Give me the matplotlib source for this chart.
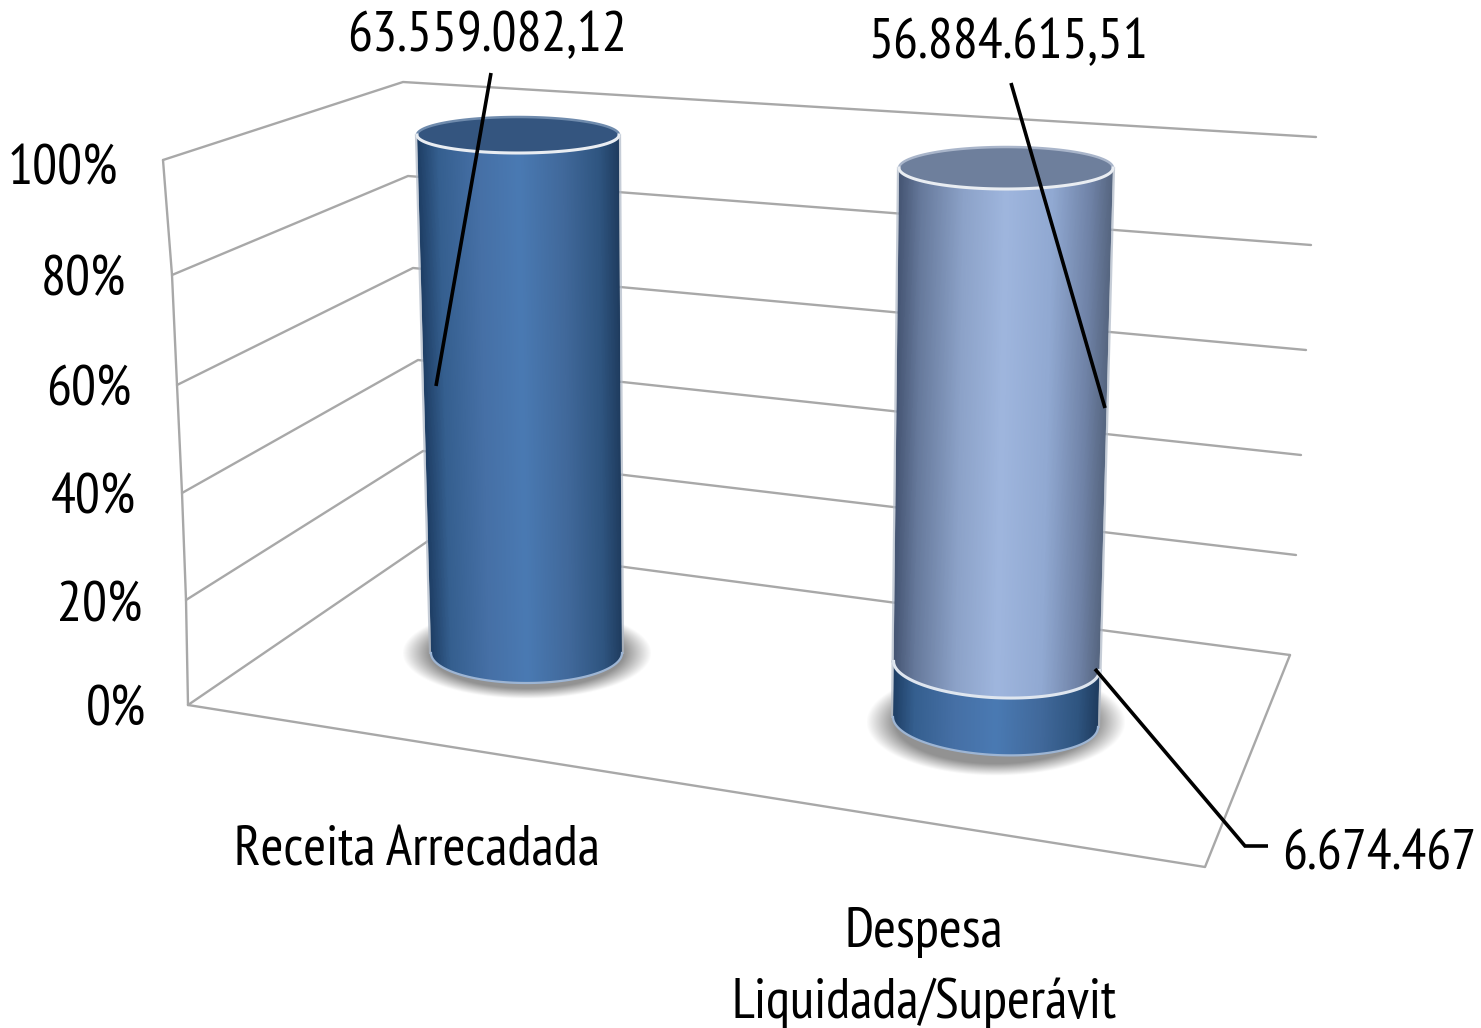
import matplotlib
matplotlib.use('Agg')
import matplotlib.pyplot as plt
from matplotlib.colors import LinearSegmentedColormap
from matplotlib.patches import Polygon
import numpy as np

plt.rcParams['font.family'] = ['PT Sans Narrow', 'Liberation Sans', 'DejaVu Sans']

# data
categories = ['Receita Arrecadada', 'Despesa\nLiquidada/Superávit']
receita = [63559082.12, 0]
despesa = [0, 56884615.51]
superavit = [0, 6674467]
tick_values = [0, 20, 40, 60, 80, 100]
tick_labels = ['0%', '20%', '40%', '60%', '80%', '100%']
value_labels = ['63.559.082,12', '56.884.615,51', '6.674.467']

# the fake 3d box, pixels of the picture, one entry per tick
front_x = [188, 186, 182, 177, 172, 163]
front_y = [705, 600, 493, 385, 275, 160]
back_x = [428, 423, 418, 413, 408, 403]
back_y = [541, 451, 360, 268, 176, 82]
right_x = [1290, 1296, 1301, 1306, 1311, 1316]
right_y = [655, 555, 455, 350, 245, 137]
floor_front = (1205, 867)

# cylinders: bottom and top ellipse (cx, cy, rx, ry, tilt)
cyl1 = ((526.5, 653, 95.5, 30, 0), (518, 135, 101, 18, 0))
cyl2 = ((995.5, 722, 102.5, 33, 5), (1006, 168, 107, 21, 0))

dark_blue = LinearSegmentedColormap.from_list('b', [(0, '#1f3f66'), (0.1, '#355f8f'), (0.3, '#4670a6'),
                                                    (0.5, '#4a7ab3'), (0.72, '#41699b'), (0.9, '#2f5580'), (1, '#1f3c5e')])
light_blue = LinearSegmentedColormap.from_list('l', [(0, '#465674'), (0.1, '#66799b'), (0.3, '#8ca2c8'),
                                                     (0.5, '#9fb6de'), (0.72, '#91a9d2'), (0.9, '#6f82a6'), (1, '#55657f')])

fig = plt.figure(figsize=(14.81, 10.28), dpi=100)
ax = fig.add_axes([0, 0, 1, 1])
ax.axis('off')


def grid(x, y, **kw):
    ax.plot(x, y, color='#a8a8a8', lw=1.7, solid_capstyle='round', zorder=1, **kw)


def ellipse_at(cyl, pct):
    # pct -> ellipse, the steps of the front edge give the perspective
    k = (front_y[0] - np.interp(pct, tick_values, front_y)) / (front_y[0] - front_y[-1])
    return [b + (t - b) * k for b, t in zip(cyl[0], cyl[1])]


def arc(e, t0, t1):
    t = np.linspace(t0, t1, 80)
    return e[0] + e[2] * np.cos(t), e[1] + e[3] * np.sin(t) + e[4] * np.cos(t)


def shadow(e, grow_x, grow_y):
    xs = np.arange(e[0] - grow_x - 20, e[0] + grow_x + 20)
    ys = np.arange(e[1] - grow_y - 20, e[1] + grow_y + 20)
    xx, yy = np.meshgrid(xs, ys)
    d = np.sqrt(((xx - e[0]) / grow_x) ** 2 + ((yy - e[1]) / grow_y) ** 2)
    img = np.zeros(d.shape + (4,))
    img[..., :3] = 0.5
    img[..., 3] = 0.85 * np.clip((1 - d) / 0.22, 0, 1)
    ax.imshow(img, extent=(xs[0], xs[-1], ys[-1], ys[0]), aspect='auto', zorder=2, interpolation='bilinear')


def side(cyl, p0, p1, cmap):
    e0 = ellipse_at(cyl, p0)
    e1 = ellipse_at(cyl, p1)
    low = ellipse_at(cyl, 0)
    top = ellipse_at(cyl, 100)
    x0 = min(low[0] - low[2], top[0] - top[2]) - 2
    x1 = max(low[0] + low[2], top[0] + top[2]) + 2
    y0, y1 = e1[1] - 30, e0[1] + e0[3] + 10
    xs = np.arange(x0, x1, 1.0)
    ys = np.arange(y0, y1, 1.0)
    xx, yy = np.meshgrid(xs, ys)
    k = (yy - top[1]) / (low[1] - top[1])
    left = top[0] - top[2] + k * ((low[0] - low[2]) - (top[0] - top[2]))
    right = top[0] + top[2] + k * ((low[0] + low[2]) - (top[0] + top[2]))
    img = cmap(np.clip((xx - left) / (right - left), 0, 1))
    im = ax.imshow(img, extent=(x0, x1, y1, y0), aspect='auto', zorder=3, interpolation='bilinear')
    ux, uy = arc(e1, np.pi, 0)
    lx, ly = arc(e0, 0, np.pi)
    im.set_clip_path(Polygon(np.column_stack([np.r_[ux, lx], np.r_[uy, ly]]), transform=ax.transData))
    # pale outline down both sides
    ax.plot([ux[0] - 1, lx[-1] - 1], [uy[0], ly[-1]], color='#aeb8c6', lw=1.6, alpha=0.7, zorder=4)
    ax.plot([ux[-1] + 1, lx[0] + 1], [uy[-1], ly[0]], color='#aeb8c6', lw=1.6, alpha=0.7, zorder=4)


def rim(e, color, lw=2.0):
    x, y = arc(e, np.pi, 0)
    ax.plot(x, y, color=color, lw=lw, zorder=5)


def top_face(e, color, back_color):
    x, y = arc(e, 0, 2 * np.pi)
    ax.fill(x, y, color=color, zorder=4, lw=0)
    bx, by = arc(e, np.pi, 2 * np.pi)
    ax.plot(bx, by, color=back_color, lw=1.8, zorder=5)
    rim(e, '#e9edf2', 2.2)


# walls and floor
for i in range(len(tick_values)):
    grid([front_x[i], back_x[i], right_x[i]], [front_y[i], back_y[i], right_y[i]])
grid(front_x, front_y)
grid([front_x[0], floor_front[0], right_x[0]], [front_y[0], floor_front[1], right_y[0]])

# first cylinder
total1 = receita[0] + superavit[0]
shadow(ellipse_at(cyl1, 0)[:2], 125, 46)
side(cyl1, 0, 100 * receita[0] / total1, dark_blue)
rim(ellipse_at(cyl1, 0), '#9db5d4', 1.6)
top_face(ellipse_at(cyl1, 100), '#34557f', '#6f8bad')

# second cylinder, superavit at the bottom
total2 = despesa[1] + superavit[1]
split = 100 * superavit[1] / total2
shadow(ellipse_at(cyl2, 0)[:2], 130, 54)
side(cyl2, 0, split, dark_blue)
rim(ellipse_at(cyl2, 0), '#9db5d4', 1.6)
side(cyl2, split, 100, light_blue)
rim(ellipse_at(cyl2, split), '#dfe6ef', 2.2)
top_face(ellipse_at(cyl2, 100), '#6e7f9c', '#a9b5ca')

# leader lines
lead = dict(color='black', lw=2.6, zorder=6, solid_capstyle='butt', solid_joinstyle='miter')
ax.plot([491, 436], [73, 386], **lead)
ax.plot([1011, 1105], [83, 408], **lead)
ax.plot([1095, 1245, 1268], [669, 846, 846], **lead)

# text
fs = 40
ax.text(487, 37, value_labels[0], fontsize=fs, ha='center', va='center')
ax.text(1008, 44, value_labels[1], fontsize=fs, ha='center', va='center')
ax.text(1476, 855, value_labels[2], fontsize=fs, ha='right', va='center')

tick_right = [146, 142, 136, 131, 126, 118]
tick_y = [711, 607, 499, 391, 281, 170]
for lab, x, y in zip(tick_labels, tick_right, tick_y):
    ax.text(x, y, lab, fontsize=fs, ha='right', va='center')

ax.text(417, 851, categories[0], fontsize=fs, ha='center', va='center')
first, second = categories[1].split('\n')
ax.text(924, 933, first, fontsize=fs, ha='center', va='center')
ax.text(924, 1003, second, fontsize=fs, ha='center', va='center')

ax.set_xlim(0, 1481)
ax.set_ylim(1028, 0)
fig.savefig('out.png', dpi=100, facecolor='white')
